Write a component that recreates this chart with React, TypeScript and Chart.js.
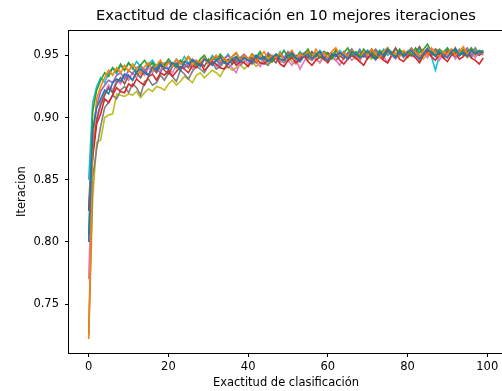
import React, { useEffect, useRef } from "react";
import { Chart, registerables } from "chart.js";

Chart.register(...registerables);

const TITLE = "Exactitud de clasificación en 10 mejores iteraciones";
const X_TITLE = "Exactitud de clasificación";
const Y_TITLE = "Iteracion";

const xTicks = [0, 20, 40, 60, 80, 100];
const yTicks = [0.75, 0.8, 0.85, 0.9, 0.95];

const colors = [
  "#1f77b4", "#ff7f0e", "#2ca02c", "#d62728", "#9467bd",
  "#8c564b", "#e377c2", "#7f7f7f", "#bcbd22", "#17becf",
];

const run0 = [
  0.800,0.890,0.908,0.915,0.922,0.919,0.928,0.931,0.929,0.935,
  0.933,0.930,0.937,0.939,0.936,0.934,0.941,0.938,0.943,0.940,
  0.939,0.944,0.942,0.938,0.945,0.943,0.946,0.944,0.941,0.947,
  0.945,0.942,0.946,0.948,0.944,0.943,0.947,0.949,0.945,0.948,
  0.946,0.944,0.950,0.947,0.949,0.945,0.948,0.951,0.947,0.946,
  0.950,0.952,0.948,0.945,0.949,0.951,0.947,0.950,0.953,0.948,
  0.946,0.951,0.949,0.952,0.950,0.947,0.953,0.951,0.948,0.950,
  0.954,0.949,0.947,0.952,0.950,0.955,0.951,0.948,0.953,0.949,
  0.952,0.954,0.950,0.947,0.951,0.955,0.952,0.949,0.953,0.950,
  0.948,0.953,0.955,0.950,0.952,0.949,0.954,0.951,0.953,0.952,
];
const run1 = [
  0.722,0.880,0.915,0.925,0.932,0.938,0.934,0.940,0.936,0.942,
  0.937,0.943,0.939,0.935,0.941,0.944,0.938,0.942,0.946,0.940,
  0.944,0.941,0.947,0.943,0.945,0.949,0.942,0.946,0.944,0.948,
  0.943,0.947,0.950,0.945,0.948,0.944,0.949,0.952,0.946,0.950,
  0.947,0.951,0.945,0.949,0.953,0.947,0.950,0.948,0.952,0.946,
  0.950,0.954,0.948,0.951,0.949,0.953,0.947,0.955,0.950,0.952,
  0.948,0.953,0.956,0.950,0.952,0.949,0.954,0.951,0.947,0.953,
  0.950,0.955,0.951,0.948,0.953,0.956,0.950,0.952,0.949,0.954,
  0.951,0.955,0.952,0.948,0.954,0.950,0.956,0.952,0.949,0.953,
  0.951,0.955,0.950,0.953,0.957,0.951,0.954,0.950,0.953,0.952,
];
const run2 = [
  0.805,0.905,0.922,0.930,0.936,0.933,0.940,0.937,0.943,0.938,
  0.944,0.940,0.936,0.942,0.946,0.941,0.944,0.939,0.945,0.942,
  0.947,0.943,0.940,0.946,0.944,0.949,0.945,0.942,0.947,0.950,
  0.944,0.948,0.946,0.951,0.947,0.944,0.949,0.952,0.947,0.950,
  0.946,0.951,0.948,0.953,0.947,0.950,0.945,0.951,0.949,0.954,
  0.948,0.951,0.947,0.952,0.950,0.955,0.949,0.952,0.948,0.953,
  0.951,0.947,0.954,0.950,0.952,0.956,0.950,0.953,0.949,0.955,
  0.951,0.953,0.948,0.954,0.951,0.956,0.952,0.949,0.955,0.951,
  0.953,0.950,0.956,0.952,0.955,0.959,0.953,0.950,0.955,0.952,
  0.956,0.951,0.954,0.950,0.955,0.952,0.956,0.951,0.954,0.953,
];
const run3 = [
  0.825,0.868,0.895,0.903,0.915,0.912,0.918,0.924,0.921,0.920,
  0.927,0.925,0.931,0.928,0.926,0.933,0.935,0.930,0.936,0.934,
  0.938,0.933,0.937,0.941,0.939,0.936,0.942,0.940,0.944,0.938,
  0.941,0.945,0.943,0.940,0.939,0.944,0.947,0.942,0.945,0.944,
  0.941,0.946,0.948,0.944,0.943,0.947,0.945,0.949,0.943,0.941,
  0.946,0.948,0.944,0.947,0.950,0.945,0.942,0.946,0.949,0.947,
  0.944,0.949,0.951,0.946,0.943,0.947,0.950,0.948,0.945,0.942,
  0.948,0.951,0.947,0.949,0.946,0.944,0.950,0.952,0.947,0.945,
  0.949,0.951,0.948,0.944,0.950,0.953,0.949,0.946,0.951,0.948,
  0.945,0.950,0.952,0.947,0.949,0.953,0.948,0.946,0.943,0.948,
];
const run4 = [
  0.830,0.888,0.910,0.921,0.926,0.930,0.928,0.934,0.936,0.931,
  0.938,0.935,0.940,0.942,0.937,0.941,0.944,0.939,0.936,0.943,
  0.945,0.941,0.944,0.946,0.940,0.943,0.947,0.945,0.942,0.948,
  0.944,0.946,0.949,0.943,0.947,0.950,0.946,0.944,0.948,0.951,
  0.947,0.945,0.950,0.948,0.946,0.952,0.949,0.947,0.951,0.948,
  0.953,0.950,0.947,0.949,0.952,0.954,0.948,0.951,0.949,0.953,
  0.951,0.948,0.954,0.952,0.949,0.951,0.955,0.950,0.953,0.951,
  0.948,0.952,0.954,0.950,0.953,0.956,0.951,0.949,0.954,0.952,
  0.950,0.955,0.953,0.949,0.952,0.956,0.951,0.954,0.950,0.953,
  0.955,0.951,0.949,0.954,0.952,0.956,0.950,0.953,0.951,0.954,
];
const run5 = [
  0.826,0.870,0.898,0.910,0.918,0.924,0.920,0.928,0.932,0.927,
  0.934,0.930,0.936,0.932,0.938,0.934,0.940,0.936,0.942,0.938,
  0.935,0.941,0.944,0.939,0.943,0.940,0.946,0.942,0.945,0.941,
  0.947,0.943,0.946,0.949,0.944,0.947,0.943,0.948,0.945,0.950,
  0.946,0.948,0.944,0.949,0.946,0.951,0.947,0.944,0.950,0.947,
  0.952,0.948,0.950,0.946,0.951,0.948,0.953,0.949,0.951,0.947,
  0.952,0.949,0.954,0.950,0.947,0.952,0.955,0.950,0.953,0.949,
  0.951,0.955,0.950,0.953,0.948,0.954,0.951,0.956,0.950,0.953,
  0.949,0.955,0.952,0.957,0.951,0.954,0.950,0.955,0.952,0.948,
  0.954,0.951,0.956,0.950,0.953,0.951,0.955,0.952,0.950,0.953,
];
const run6 = [
  0.770,0.875,0.900,0.912,0.920,0.926,0.922,0.930,0.927,0.934,
  0.930,0.936,0.932,0.938,0.934,0.940,0.936,0.942,0.938,0.944,
  0.939,0.936,0.942,0.945,0.940,0.943,0.939,0.945,0.942,0.947,
  0.943,0.946,0.941,0.944,0.948,0.943,0.940,0.936,0.944,0.947,
  0.943,0.948,0.945,0.941,0.947,0.950,0.945,0.948,0.944,0.949,
  0.946,0.942,0.947,0.939,0.945,0.950,0.946,0.948,0.944,0.951,
  0.947,0.950,0.946,0.942,0.948,0.951,0.946,0.949,0.945,0.952,
  0.948,0.950,0.946,0.953,0.949,0.944,0.950,0.947,0.952,0.948,
  0.953,0.949,0.951,0.946,0.952,0.948,0.954,0.950,0.946,0.952,
  0.949,0.953,0.947,0.951,0.954,0.949,0.952,0.948,0.953,0.950,
];
const run7 = [
  0.725,0.852,0.875,0.893,0.908,0.912,0.918,0.915,0.922,0.925,
  0.920,0.927,0.924,0.918,0.929,0.931,0.926,0.928,0.934,0.930,
  0.936,0.933,0.929,0.938,0.935,0.931,0.937,0.941,0.939,0.936,
  0.942,0.944,0.939,0.941,0.945,0.940,0.943,0.946,0.942,0.945,
  0.947,0.943,0.946,0.948,0.944,0.942,0.947,0.949,0.946,0.944,
  0.948,0.951,0.947,0.945,0.950,0.948,0.946,0.951,0.949,0.947,
  0.952,0.950,0.946,0.949,0.953,0.948,0.951,0.949,0.954,0.950,
  0.947,0.952,0.955,0.951,0.948,0.953,0.950,0.955,0.952,0.949,
  0.953,0.956,0.951,0.948,0.954,0.952,0.950,0.955,0.953,0.949,
  0.952,0.955,0.951,0.953,0.950,0.954,0.952,0.956,0.951,0.953,
];
const run8 = [
  0.726,0.835,0.880,0.882,0.900,0.902,0.903,0.919,0.918,0.917,
  0.919,0.918,0.921,0.916,0.920,0.923,0.921,0.925,0.924,0.922,
  0.927,0.930,0.926,0.929,0.933,0.931,0.928,0.934,0.936,0.932,
  0.935,0.938,0.936,0.933,0.939,0.941,0.938,0.940,0.943,0.939,
  0.942,0.945,0.941,0.944,0.946,0.943,0.945,0.948,0.944,0.947,
  0.949,0.945,0.943,0.948,0.950,0.946,0.949,0.947,0.944,0.949,
  0.951,0.948,0.946,0.950,0.952,0.948,0.950,0.947,0.951,0.953,
  0.949,0.947,0.952,0.950,0.948,0.953,0.951,0.949,0.954,0.950,
  0.948,0.952,0.955,0.950,0.947,0.952,0.950,0.954,0.951,0.948,
  0.953,0.951,0.949,0.954,0.952,0.948,0.951,0.953,0.950,0.952,
];
const run9 = [
  0.850,0.912,0.925,0.932,0.928,0.936,0.940,0.935,0.942,0.938,
  0.944,0.939,0.945,0.941,0.937,0.943,0.946,0.941,0.944,0.939,
  0.945,0.942,0.947,0.943,0.949,0.944,0.941,0.946,0.943,0.948,
  0.944,0.950,0.946,0.942,0.947,0.951,0.945,0.948,0.944,0.949,
  0.946,0.951,0.947,0.952,0.948,0.945,0.950,0.947,0.953,0.948,
  0.945,0.951,0.948,0.953,0.949,0.946,0.952,0.949,0.954,0.950,
  0.947,0.952,0.949,0.954,0.950,0.947,0.953,0.950,0.955,0.949,
  0.952,0.948,0.954,0.951,0.955,0.950,0.953,0.949,0.954,0.951,
  0.948,0.953,0.950,0.955,0.951,0.954,0.949,0.938,0.950,0.953,
  0.949,0.954,0.951,0.955,0.950,0.953,0.948,0.954,0.951,0.953,
];

const runs = [run0, run1, run2, run3, run4, run5, run6, run7, run8, run9];

const FONT = "'DejaVu Sans', sans-serif";

const boxPlugin = {
  id: "box",
  afterDatasetsDraw(chart: any) {
    const { ctx, chartArea } = chart;
    ctx.save();
    ctx.strokeStyle = "#000";
    ctx.lineWidth = 1;
    ctx.strokeRect(
      Math.round(chartArea.left) - 0.5,
      Math.round(chartArea.top) + 0.5,
      Math.round(chartArea.right - chartArea.left) + 1,
      Math.round(chartArea.bottom - chartArea.top)
    );
    ctx.restore();
  },
};

export default function App() {
  const ref = useRef<HTMLCanvasElement>(null);
  useEffect(() => {
    if (!ref.current) return;
    const datasets = runs.map((r, i) => ({
      label: `Iteración ${i + 1}`,
      data: r.map((v, j) => ({ x: j, y: v })),
      borderColor: colors[i],
      backgroundColor: colors[i],
      borderWidth: 1.6,
      pointRadius: 0,
      fill: false,
      tension: 0,
    }));
    const chart = new Chart(ref.current, {
      type: "line",
      data: { datasets },
      plugins: [boxPlugin],
      options: {
        animation: false,
        responsive: false,
        maintainAspectRatio: false,
        layout: { padding: { left: 0, right: -4, top: 0, bottom: 0 } },
        plugins: {
          legend: { display: false },
          tooltip: { enabled: false },
          title: {
            display: true,
            fullSize: false,
            text: TITLE,
            color: "#000",
            font: { family: FONT, size: 14.6, weight: "normal" },
            padding: { top: 7.5, bottom: 5.2 },
          },
        },
        scales: {
          x: {
            type: "linear",
            min: -4.95,
            max: 103.95,
            afterBuildTicks: (s: any) => {
              s.ticks = xTicks.map((v) => ({ value: v }));
            },
            afterFit: (s: any) => {
              s.height = 38;
            },
            ticks: {
              color: "#000",
              font: { family: FONT, size: 11.5 },
              padding: 3,
              maxRotation: 0,
              callback: (v: any) => String(v),
            },
            grid: {
              display: true,
              drawOnChartArea: false,
              drawTicks: true,
              tickLength: 4,
              color: "#000",
            },
            border: { display: false },
            title: {
              display: true,
              text: X_TITLE,
              color: "#000",
              font: { family: FONT, size: 11.5 },
              padding: { top: 0, bottom: 1 },
            },
          },
          y: {
            type: "linear",
            min: 0.7107,
            max: 0.9702,
            afterBuildTicks: (s: any) => {
              s.ticks = yTicks.map((v) => ({ value: v }));
            },
            afterFit: (s: any) => {
              s.width = 69;
            },
            ticks: {
              color: "#000",
              font: { family: FONT, size: 11.5 },
              padding: 6,
              callback: (v: any) => Number(v).toFixed(2),
            },
            grid: {
              display: true,
              drawOnChartArea: false,
              drawTicks: true,
              tickLength: 4,
              color: "#000",
            },
            border: { display: false },
            title: {
              display: true,
              text: Y_TITLE,
              color: "#000",
              font: { family: FONT, size: 11.5 },
              padding: { top: 15, bottom: 0 },
            },
          },
        },
      },
    });
    return () => chart.destroy();
  }, []);
  return (
    <div
      style={{
        position: "fixed",
        left: 0,
        top: 0,
        width: 502,
        height: 391,
        overflow: "hidden",
        background: "#fff",
      }}
    >
      <canvas ref={ref} width={503} height={391} style={{ display: "block" }} />
    </div>
  );
}
